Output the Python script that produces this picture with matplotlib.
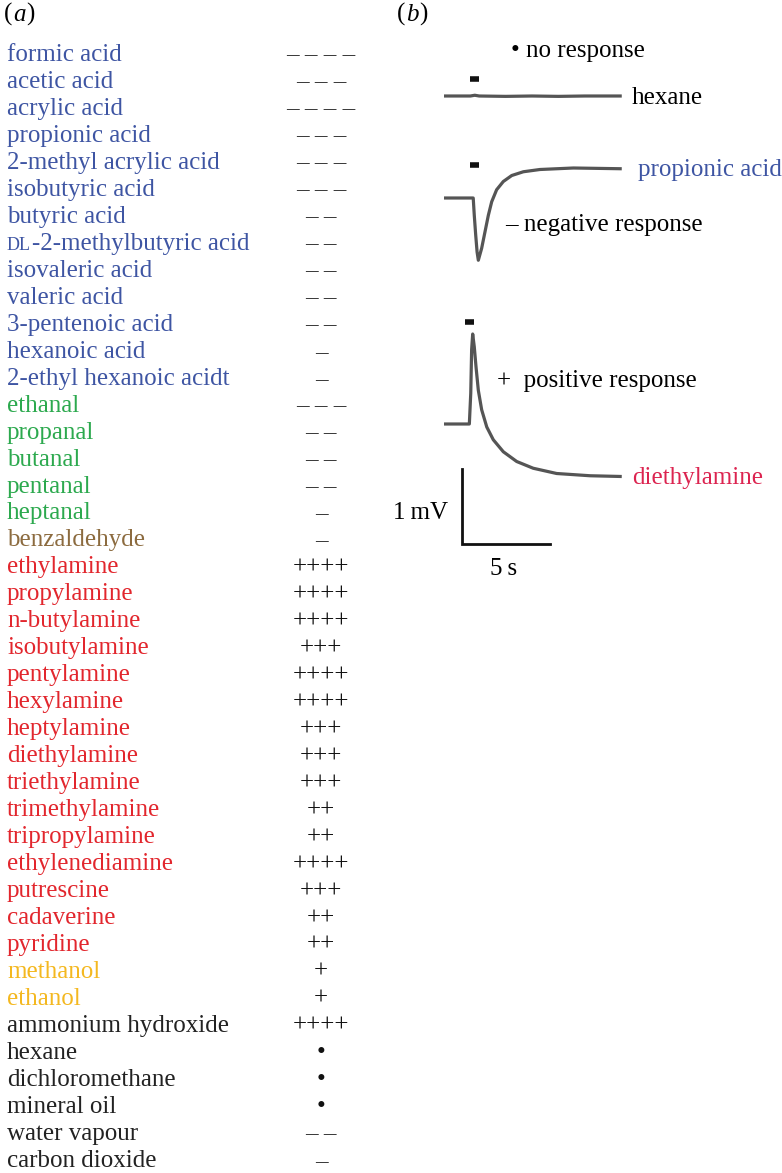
import numpy as np
import matplotlib.pyplot as plt

plt.rcParams['font.family'] = ['Liberation Serif', 'DejaVu Serif']

# panel (a): odorant list and response scores
odorants = ["formic acid", "acetic acid", "acrylic acid", "propionic acid",
            "2-methyl acrylic acid", "isobutyric acid", "butyric acid",
            "DL-2-methylbutyric acid", "isovaleric acid", "valeric acid",
            "3-pentenoic acid", "hexanoic acid", "2-ethyl hexanoic acidt",
            "ethanal", "propanal", "butanal", "pentanal", "heptanal",
            "benzaldehyde",
            "ethylamine", "propylamine", "n-butylamine", "isobutylamine",
            "pentylamine", "hexylamine", "heptylamine", "diethylamine",
            "triethylamine", "trimethylamine", "tripropylamine",
            "ethylenediamine", "putrescine", "cadaverine", "pyridine",
            "methanol", "ethanol",
            "ammonium hydroxide", "hexane", "dichloromethane", "mineral oil",
            "water vapour", "carbon dioxide"]
scores = [-4, -3, -4, -3, -3, -3, -2, -2, -2, -2, -2, -1, -1,
          -3, -2, -2, -2, -1, -1,
          4, 4, 4, 3, 4, 4, 3, 3, 3, 2, 2, 4, 3, 2, 2,
          1, 1,
          4, 0, 0, 0, -2, -1]
groups = ["acid"] * 13 + ["aldehyde"] * 5 + ["aromatic"] + ["amine"] * 15 + \
         ["alcohol"] * 2 + ["other"] * 7
group_colors = {"acid": "#3e55a3", "aldehyde": "#2ca94e", "aromatic": "#8c6b3f",
                "amine": "#e2262d", "alcohol": "#f4b820", "other": "#222222"}

# panel (b): example recordings, time (s) vs potential (mV) from baseline
hex_t = [0.0, 1.5, 1.75, 2.0, 3.5, 5.0, 6.5, 8.0, 10.1]
hex_v = [0.0, 0.0, 0.01, 0.0, -0.005, 0.0, -0.005, 0.0, 0.0]
prop_t = [0.0, 1.66, 1.72, 1.80, 1.88, 1.95, 2.14, 2.33, 2.52, 2.71, 2.99,
          3.37, 3.85, 4.51, 5.45, 7.35, 10.1]
prop_v = [0.0, 0.0, -0.23, -0.49, -0.72, -0.83, -0.67, -0.45, -0.23, -0.05,
          0.11, 0.22, 0.30, 0.35, 0.38, 0.40, 0.39]
diet_t = [0.0, 1.44, 1.52, 1.57, 1.63, 1.72, 1.82, 1.95, 2.14, 2.43, 2.80,
          3.37, 4.13, 5.07, 6.40, 8.30, 10.1]
diet_v = [0.0, 0.0, 0.41, 0.99, 1.20, 1.03, 0.76, 0.45, 0.19, -0.04, -0.21,
          -0.37, -0.50, -0.59, -0.66, -0.69, -0.70]
stim_on = [1.48, 1.48, 1.19]
stim_len = 0.52


def score_text(s):
    if s > 0:
        return "+" * s
    if s < 0:
        return " ".join(["\u2013"] * (-s))
    return "\u2022"


W, H = 782, 1173
fig = plt.figure(figsize=(W / 100, H / 100), dpi=100)
renderer = fig.canvas.get_renderer()


def fx(x):
    return x / W


def fy(y):
    return 1 - y / H


def chain(x, y, parts, **kw):
    # place text pieces one after another on the same baseline
    for s, extra in parts:
        t = fig.text(fx(x), fy(y), s, va='baseline', **kw, **extra)
        x = t.get_window_extent(renderer).x1 + 0.5


fs = 18
chain(4, 21, [("(", {}), ("a", {"style": "italic"}), (")", {})], fontsize=fs)
chain(397, 21, [("(", {}), ("b", {"style": "italic"}), (")", {})], fontsize=fs)

row0, step = 61, 26.97
for i, (name, s, g) in enumerate(zip(odorants, scores, groups)):
    yb = row0 + i * step
    c = group_colors[g]
    if name.startswith("DL-"):
        chain(7, yb, [("DL", {"fontsize": 13}), (name[2:], {"fontsize": fs})],
              color=c)
    else:
        fig.text(fx(7), fy(yb), name, fontsize=fs, color=c, va='baseline')
    sc = "#3a3a3a" if s < 0 else "#111111"
    fig.text(fx(321), fy(yb), score_text(s), fontsize=fs, color=sc,
             ha='center', va='baseline')

# traces: one axes in seconds / mV covering the right panel
px_s, px_mv = 17.6, 75.0
x0, y0 = 380, 600
ax = fig.add_axes([fx(x0), fy(y0), (W - x0) / W, y0 / H])
ax.set_xlim(0, (W - x0) / px_s)
ax.set_ylim(-y0 / px_mv, 0)
ax.axis('off')

t_off = (444 - x0) / px_s
bases = [-96 / px_mv, -198 / px_mv, -424 / px_mv]
stim_y = [-79 / px_mv, -165 / px_mv, -321.5 / px_mv]
traces = [(hex_t, hex_v), (prop_t, prop_v), (diet_t, diet_v)]
for (t, v), b, sy, so in zip(traces, bases, stim_y, stim_on):
    ax.plot(np.array(t) + t_off, np.array(v) + b, color="#555555", lw=2.3,
            solid_capstyle='butt', solid_joinstyle='round')
    ax.plot([t_off + so, t_off + so + stim_len], [sy, sy], color="#111111",
            lw=4, solid_capstyle='butt')

# scale bar: 5 s, 1 mV
sb_x, sb_y = (462 - x0) / px_s, -544 / px_mv
ax.plot([sb_x, sb_x, sb_x + 5], [sb_y + 1, sb_y, sb_y], color="#111111", lw=2,
        solid_joinstyle='miter')

fig.text(fx(511), fy(57), "\u2022 no response", fontsize=fs, va='baseline')
fig.text(fx(632), fy(104), "hexane", fontsize=fs, va='baseline')
fig.text(fx(638), fy(176), "propionic acid", fontsize=fs, va='baseline',
         color=group_colors["acid"])
fig.text(fx(505), fy(231), "\u2013 negative response", fontsize=fs,
         va='baseline')
fig.text(fx(497), fy(387), "+  positive response", fontsize=fs, va='baseline')
fig.text(fx(632), fy(484), "diethylamine", fontsize=fs, va='baseline',
         color="#dc2450")
fig.text(fx(393), fy(519), "1\u2009mV", fontsize=fs, va='baseline',
         family=['Liberation Serif', 'DejaVu Sans'])
fig.text(fx(490), fy(575), "5\u2009s", fontsize=fs, va='baseline',
         family=['Liberation Serif', 'DejaVu Sans'])

fig.savefig("out.png", dpi=100)
